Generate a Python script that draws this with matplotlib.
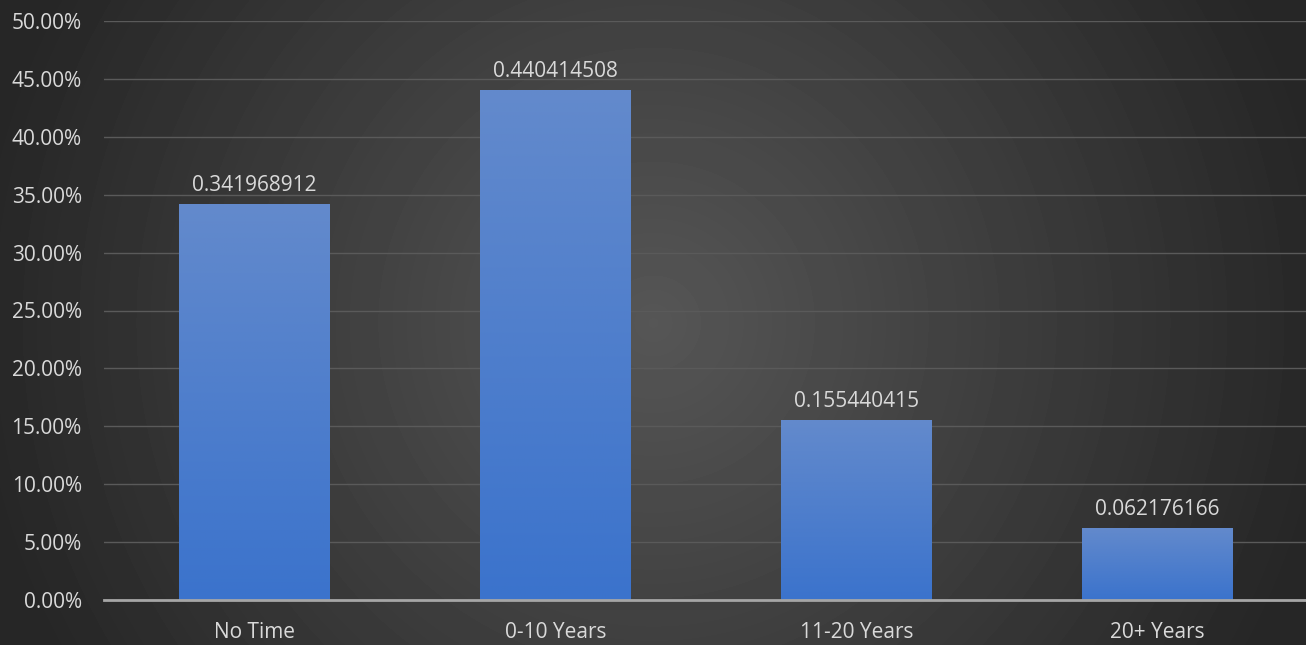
import matplotlib.pyplot as plt
import numpy as np
from matplotlib.ticker import FuncFormatter

# share of respondents per time bucket
categories = ["No Time", "0-10 Years", "11-20 Years", "20+ Years"]
shares = [0.341968912, 0.440414508, 0.155440415, 0.062176166]
labels = ["0.341968912", "0.440414508", "0.155440415", "0.062176166"]

plt.rcParams['font.family'] = ['Open Sans', 'DejaVu Sans']

W, H = 1306, 645
fig = plt.figure(figsize=(W / 100, H / 100), dpi=100)

# dark radial backdrop
bg = fig.add_axes([0, 0, 1, 1])
yy, xx = np.mgrid[0:H, 0:W]
r = np.sqrt(((xx - W / 2) / (W / 2)) ** 2 + ((yy - H / 2) / (W / 2)) ** 2)
r = np.clip(r / 1.05, 0, 1)
shade = 0x56 / 255 * (1 - r) + 0x26 / 255 * r
bg.imshow(shade, cmap='gray', vmin=0, vmax=1, aspect='auto', extent=[0, 1, 0, 1])
bg.set_axis_off()

ax = fig.add_axes([104 / W, 45 / H, 1204 / W, 579 / H])
ax.set_facecolor('none')
x = np.arange(len(categories))
bars = ax.bar(x, shares, width=0.5, color='#4a7dcc', zorder=2)

# vertical gradient on each bar
grad = np.linspace(0, 1, 256).reshape(-1, 1)
top = np.array([0x63, 0x8a, 0xcc]) / 255
bottom = np.array([0x3b, 0x73, 0xcc]) / 255
img = (top * (1 - grad)[..., None] + bottom * grad[..., None]).reshape(256, 1, 3)
for b in bars:
    b.set_facecolor('none')
    ext = [b.get_x(), b.get_x() + b.get_width(), b.get_y(), b.get_y() + b.get_height()]
    im = ax.imshow(img, extent=ext, aspect='auto', zorder=2, interpolation='bilinear')
    im.set_clip_path(b)

for xi, v, t in zip(x, shares, labels):
    ax.annotate(t, (xi, v), xytext=(0, 6), textcoords='offset points',
                ha='center', va='bottom', color='#d9d9d9', fontsize=15)

ax.set_xlim(-0.5, 3.5)
ax.set_ylim(0, 0.5)
ax.set_yticks(np.arange(0, 0.501, 0.05))
ax.yaxis.set_major_formatter(FuncFormatter(lambda v, p: f"{v * 100:.2f}%"))
ax.set_xticks(x)
ax.set_xticklabels(categories)
ax.tick_params(axis='both', length=0, colors='#d9d9d9', labelsize=15)
ax.tick_params(axis='y', pad=16)
ax.tick_params(axis='x', pad=16)
ax.grid(axis='y', color='#5a5a5a', linewidth=1, zorder=0)
for s in ['top', 'right', 'left']:
    ax.spines[s].set_visible(False)
ax.spines['bottom'].set_color('#a6a6a6')
ax.spines['bottom'].set_linewidth(2)
ax.spines['bottom'].set_zorder(3)

fig.savefig('out.png', dpi=100)
